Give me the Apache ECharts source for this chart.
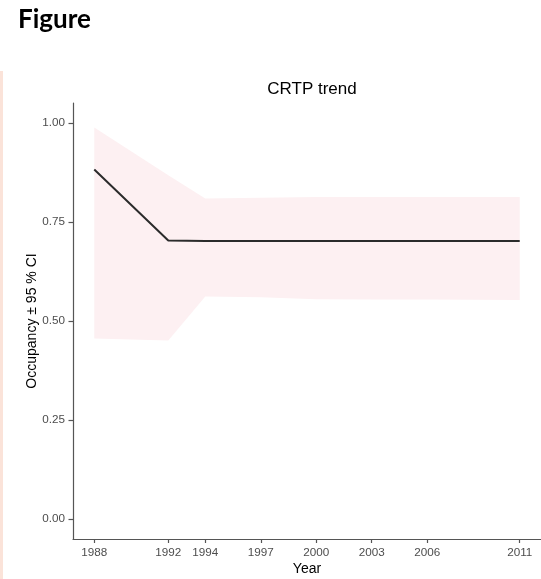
<!DOCTYPE html>
<html>
<head>
<meta charset="utf-8">
<script src="https://cdn.jsdelivr.net/npm/echarts@6/dist/echarts.min.js"></script>
<style>
  html, body { margin: 0; padding: 0; background: #ffffff; }
  #chart { width: 541px; height: 579px; }
</style>
</head>
<body>
<div id="chart"></div>
<script>
// Survey years and the modelled occupancy trend with its 95 % confidence band
const years = [1988, 1992, 1994, 1997, 2000, 2003, 2006, 2011];
const occupancy = [0.882, 0.703, 0.702, 0.702, 0.702, 0.702, 0.702, 0.702];
const upperCI = [0.988, 0.868, 0.809, 0.811, 0.813, 0.813, 0.813, 0.813];
const lowerCI = [0.456, 0.451, 0.562, 0.560, 0.555, 0.554, 0.554, 0.553];
const yearTicks = [1988, 1992, 1994, 1997, 2000, 2003, 2006, 2011];
const occTicks = [0, 0.25, 0.5, 0.75, 1];

const chart = echarts.init(document.getElementById('chart'), null, { renderer: 'canvas' });

const sansFont = '"Liberation Sans", Arial, sans-serif';
const tickLabelStyle = { color: '#4d4d4d', fontSize: 11.7, fontFamily: sansFont };
const axisLineStyle = { color: '#555555', width: 1.2 };

const option = {
  backgroundColor: '#ffffff',
  animation: false,
  title: {
    text: 'CRTP trend',
    left: 307,
    top: 76,
    textAlign: 'center',
    textStyle: { color: '#000000', fontSize: 17, fontWeight: 'normal', fontFamily: sansFont }
  },
  graphic: [
    {
      type: 'text',
      left: 18,
      top: 7,
      style: { text: 'Figure', fill: '#000000', font: 'bold 26px Lato, "Open Sans", sans-serif' }
    },
    {
      type: 'rect',
      shape: { x: 0, y: 71, width: 3, height: 508 },
      style: { fill: '#fbe3d9' }
    }
  ],
  grid: { left: 73, right: 0, top: 103, height: 436, containLabel: false, outerBoundsMode: 'none' },
  xAxis: {
    type: 'value',
    min: 1986.85,
    max: 2012.15,
    name: 'Year',
    nameLocation: 'middle',
    nameGap: 23,
    nameMoveOverlap: false,
    nameTextStyle: { color: '#000000', fontSize: 14, fontFamily: sansFont },
    axisLine: { show: true, onZero: false, lineStyle: axisLineStyle },
    axisTick: { show: true, length: 4, lineStyle: axisLineStyle, customValues: yearTicks },
    axisLabel: Object.assign({ margin: 8, customValues: yearTicks, formatter: v => String(v) }, tickLabelStyle),
    splitLine: { show: false }
  },
  yAxis: {
    type: 'value',
    min: -0.05,
    max: 1.05,
    name: 'Occupancy ± 95 % CI',
    nameLocation: 'middle',
    nameGap: 34,
    nameMoveOverlap: false,
    nameTextStyle: { color: '#000000', fontSize: 14, fontFamily: sansFont },
    axisLine: { show: true, onZero: false, lineStyle: axisLineStyle },
    axisTick: { show: true, length: 4.5, lineStyle: axisLineStyle, customValues: occTicks },
    axisLabel: Object.assign({ margin: 8, customValues: occTicks, formatter: v => v.toFixed(2) }, tickLabelStyle),
    splitLine: { show: false }
  },
  series: [
    {
      // confidence band drawn as one polygon: upper edge forward, lower edge back
      type: 'custom',
      data: [0],
      silent: true,
      z: 1,
      renderItem: function (params, api) {
        const pts = [];
        for (let i = 0; i < years.length; i++) pts.push(api.coord([years[i], upperCI[i]]));
        for (let i = years.length - 1; i >= 0; i--) pts.push(api.coord([years[i], lowerCI[i]]));
        return {
          type: 'polygon',
          shape: { points: pts },
          style: { fill: '#fdf0f2', stroke: null }
        };
      }
    },
    {
      type: 'line',
      data: years.map((y, i) => [y, occupancy[i]]),
      showSymbol: false,
      z: 2,
      lineStyle: { color: '#2b2b2b', width: 2 },
      silent: true
    }
  ]
};

chart.setOption(option);
</script>
</body>
</html>
